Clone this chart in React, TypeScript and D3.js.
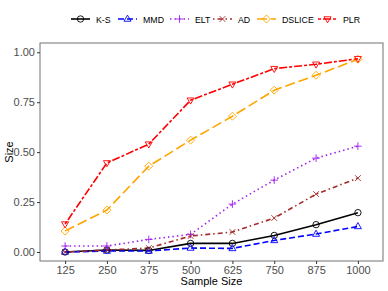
import React, { useEffect, useRef } from 'react';
import * as d3 from 'd3';

const sampleSizes = ['125', '250', '375', '500', '625', '750', '875', '1000'];
const yTicks = [0, 0.25, 0.5, 0.75, 1.0];

const ksValues = [0.0, 0.01, 0.008, 0.043, 0.043, 0.083, 0.137, 0.197];
const mmdValues = [0.0, 0.005, 0.005, 0.02, 0.018, 0.058, 0.09, 0.128];
const eltValues = [0.03, 0.03, 0.063, 0.088, 0.24, 0.36, 0.47, 0.53];
const adValues = [0.0, 0.01, 0.02, 0.08, 0.1, 0.17, 0.29, 0.37];
const dsliceValues = [0.105, 0.21, 0.43, 0.56, 0.68, 0.81, 0.885, 0.965];
const plrValues = [0.14, 0.446, 0.54, 0.76, 0.84, 0.918, 0.94, 0.968];

const series = [
  { name: 'K-S', values: ksValues, color: '#000000', dash: '', shape: 'circle' },
  { name: 'MMD', values: mmdValues, color: '#0000FF', dash: '6,3', shape: 'triangle' },
  { name: 'ELT', values: eltValues, color: '#A020F0', dash: '1.5,3', shape: 'plus' },
  { name: 'AD', values: adValues, color: '#A52A2A', dash: '1.5,3,5,3', shape: 'cross' },
  { name: 'DSLICE', values: dsliceValues, color: '#FFA500', dash: '10,4', shape: 'diamond' },
  { name: 'PLR', values: plrValues, color: '#FF0000', dash: '3,2,8,2', shape: 'down' },
];

const drawShape = (g: any, shape: string, x: number, y: number, color: string) => {
  const r = 3.2;
  if (shape === 'circle') {
    g.append('circle').attr('cx', x).attr('cy', y).attr('r', r)
      .attr('fill', 'none').attr('stroke', color).attr('stroke-width', 0.9);
  } else if (shape === 'triangle') {
    g.append('path')
      .attr('d', `M${x},${y - r * 1.2}L${x + r * 1.1},${y + r * 0.7}L${x - r * 1.1},${y + r * 0.7}Z`)
      .attr('fill', 'none').attr('stroke', color).attr('stroke-width', 0.9);
  } else if (shape === 'down') {
    g.append('path')
      .attr('d', `M${x},${y + r * 1.2}L${x + r * 1.1},${y - r * 0.7}L${x - r * 1.1},${y - r * 0.7}Z`)
      .attr('fill', 'none').attr('stroke', color).attr('stroke-width', 0.9);
  } else if (shape === 'diamond') {
    g.append('path')
      .attr('d', `M${x},${y - r * 1.25}L${x + r * 1.25},${y}L${x},${y + r * 1.25}L${x - r * 1.25},${y}Z`)
      .attr('fill', 'none').attr('stroke', color).attr('stroke-width', 0.9);
  } else if (shape === 'plus') {
    g.append('path')
      .attr('d', `M${x - r * 1.2},${y}H${x + r * 1.2}M${x},${y - r * 1.2}V${y + r * 1.2}`)
      .attr('stroke', color).attr('stroke-width', 0.9);
  } else if (shape === 'cross') {
    const k = r * 0.9;
    g.append('path')
      .attr('d', `M${x - k},${y - k}L${x + k},${y + k}M${x - k},${y + k}L${x + k},${y - k}`)
      .attr('stroke', color).attr('stroke-width', 0.9);
  }
};

const App: React.FC = () => {
  const svgRef = useRef<SVGSVGElement | null>(null);

  useEffect(() => {
    const svg = d3.select(svgRef.current);
    svg.selectAll('*').remove();

    const panel = { left: 40, right: 383, top: 43, bottom: 261 };

    const xScale = d3
      .scalePoint()
      .domain(sampleSizes)
      .range([panel.left, panel.right])
      .padding(0.6);

    const yScale = d3.scaleLinear().domain([-0.045, 1.0465]).range([panel.bottom, panel.top]);

    const font = 'Liberation Sans, Arial, Helvetica, sans-serif';

    // Panel border
    svg.append('rect')
      .attr('x', panel.left).attr('y', panel.top)
      .attr('width', panel.right - panel.left).attr('height', panel.bottom - panel.top)
      .attr('fill', 'white').attr('stroke', '#7F7F7F').attr('stroke-width', 1.1);

    // Y axis
    const yAxis = svg.append('g').attr('transform', `translate(${panel.left},0)`)
      .call(d3.axisLeft(yScale).tickValues(yTicks).tickSize(3).tickPadding(2).tickFormat((d) => d3.format('.2f')(d as number)));
    yAxis.select('.domain').remove();
    yAxis.selectAll('line').attr('stroke', '#333333');
    yAxis.selectAll('text').attr('fill', '#4D4D4D').style('font-size', '11px').style('font-family', font);

    // X axis
    const xAxis = svg.append('g').attr('transform', `translate(0,${panel.bottom})`)
      .call(d3.axisBottom(xScale).tickSize(3).tickPadding(2));
    xAxis.select('.domain').remove();
    xAxis.selectAll('line').attr('stroke', '#333333');
    xAxis.selectAll('text').attr('fill', '#4D4D4D').style('font-size', '11px').style('font-family', font);

    // Axis titles
    svg.append('text')
      .attr('x', (panel.left + panel.right) / 2).attr('y', 285)
      .attr('text-anchor', 'middle').style('font-size', '11px').style('font-family', font)
      .text('Sample Size');
    svg.append('text')
      .attr('transform', `translate(13,${(panel.top + panel.bottom) / 2}) rotate(-90)`)
      .attr('text-anchor', 'middle').style('font-size', '11px').style('font-family', font)
      .text('Size');

    // Lines and points
    const line = d3.line<number>()
      .x((_, i) => xScale(sampleSizes[i])!)
      .y((d) => yScale(d));

    series.forEach((s) => {
      svg.append('path')
        .datum(s.values)
        .attr('d', line)
        .attr('fill', 'none')
        .attr('stroke', s.color)
        .attr('stroke-width', 1.6)
        .attr('stroke-dasharray', s.dash);
    });
    series.forEach((s) => {
      const g = svg.append('g');
      s.values.forEach((v, i) => drawShape(g, s.shape, xScale(sampleSizes[i])!, yScale(v), s.color));
    });

    // Legend
    const legendX = [71, 118, 170, 213, 257, 318];
    const legendY = 19;
    series.forEach((s, i) => {
      const g = svg.append('g');
      const x0 = legendX[i];
      g.append('line')
        .attr('x1', x0).attr('x2', x0 + 19).attr('y1', legendY).attr('y2', legendY)
        .attr('stroke', s.color).attr('stroke-width', 1.6).attr('stroke-dasharray', s.dash);
      drawShape(g, s.shape, x0 + 9.5, legendY, s.color);
      g.append('text')
        .attr('x', x0 + 25).attr('y', legendY + 3.5)
        .style('font-size', '8.8px').style('font-family', font)
        .text(s.name);
    });
  }, []);

  return (
    <div style={{ position: 'absolute', left: 0, top: 0 }}>
      <svg ref={svgRef} width={388} height={291} style={{ display: 'block', background: 'white' }}></svg>
    </div>
  );
};

export default App;
